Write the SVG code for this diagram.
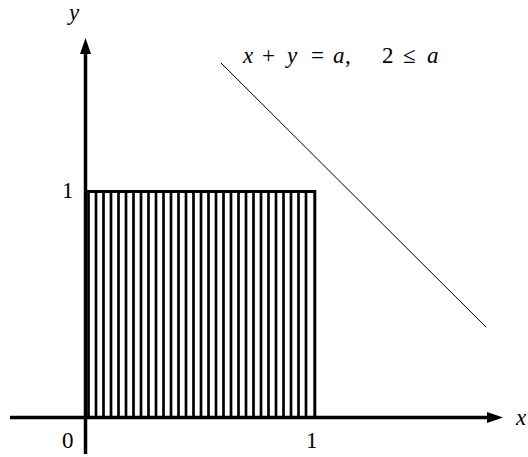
<svg xmlns="http://www.w3.org/2000/svg" width="528" height="457" viewBox="0 0 528 457">
<style>
.t{font-family:"Liberation Serif","DejaVu Serif",serif;font-size:23px;fill:#000}
.i{font-style:italic}
.ax{stroke:#000;stroke-width:3.5;fill:none}
.h{stroke:#000;stroke-width:2.7}
</style>
<rect width="528" height="457" fill="#fff"/>
<g id="square">
<g class="h">
<line x1="88.5" y1="191" x2="88.5" y2="417"/>
<line x1="96" y1="191" x2="96" y2="417"/>
<line x1="103.5" y1="191" x2="103.5" y2="417"/>
<line x1="111" y1="191" x2="111" y2="417"/>
<line x1="118.5" y1="191" x2="118.5" y2="417"/>
<line x1="126" y1="191" x2="126" y2="417"/>
<line x1="133.5" y1="191" x2="133.5" y2="417"/>
<line x1="141" y1="191" x2="141" y2="417"/>
<line x1="148.5" y1="191" x2="148.5" y2="417"/>
<line x1="156" y1="191" x2="156" y2="417"/>
<line x1="163.5" y1="191" x2="163.5" y2="417"/>
<line x1="171" y1="191" x2="171" y2="417"/>
<line x1="178.5" y1="191" x2="178.5" y2="417"/>
<line x1="186" y1="191" x2="186" y2="417"/>
<line x1="193.5" y1="191" x2="193.5" y2="417"/>
<line x1="201" y1="191" x2="201" y2="417"/>
<line x1="208.5" y1="191" x2="208.5" y2="417"/>
<line x1="216" y1="191" x2="216" y2="417"/>
<line x1="223.5" y1="191" x2="223.5" y2="417"/>
<line x1="231" y1="191" x2="231" y2="417"/>
<line x1="238.5" y1="191" x2="238.5" y2="417"/>
<line x1="246" y1="191" x2="246" y2="417"/>
<line x1="253.5" y1="191" x2="253.5" y2="417"/>
<line x1="261" y1="191" x2="261" y2="417"/>
<line x1="268.5" y1="191" x2="268.5" y2="417"/>
<line x1="276" y1="191" x2="276" y2="417"/>
<line x1="283.5" y1="191" x2="283.5" y2="417"/>
<line x1="291" y1="191" x2="291" y2="417"/>
<line x1="298.5" y1="191" x2="298.5" y2="417"/>
<line x1="306" y1="191" x2="306" y2="417"/>
</g>
<polyline points="86,191.5 314.8,191.5 314.8,417.5" fill="none" stroke="#000" stroke-width="3"/>
</g>
<g id="connectors">
<line class="ax" x1="10" y1="417.5" x2="489" y2="417.5"/>
<polygon points="503,417.5 487,412 487,423" fill="#000"/>
<line class="ax" x1="85.5" y1="454" x2="85.5" y2="51"/>
<polygon points="85.5,38 80,54 91,54" fill="#000"/>
<line x1="221" y1="63" x2="486" y2="327" stroke="#000" stroke-width="1"/>
</g>
<g id="labels">
<text class="t i" x="69" y="20">y</text>
<text class="t i" x="516" y="425">x</text>
<text class="t" x="62" y="198">1</text>
<text class="t" x="62" y="448">0</text>
<text class="t" x="306" y="448">1</text>
<text class="t" y="63"><tspan class="i" x="243">x</tspan><tspan x="262">+</tspan><tspan class="i" x="287">y</tspan><tspan x="311">=</tspan><tspan class="i" x="333">a</tspan><tspan x="345">,</tspan><tspan x="382">2</tspan><tspan x="403">≤</tspan><tspan class="i" x="427">a</tspan></text>
</g>
</svg>
